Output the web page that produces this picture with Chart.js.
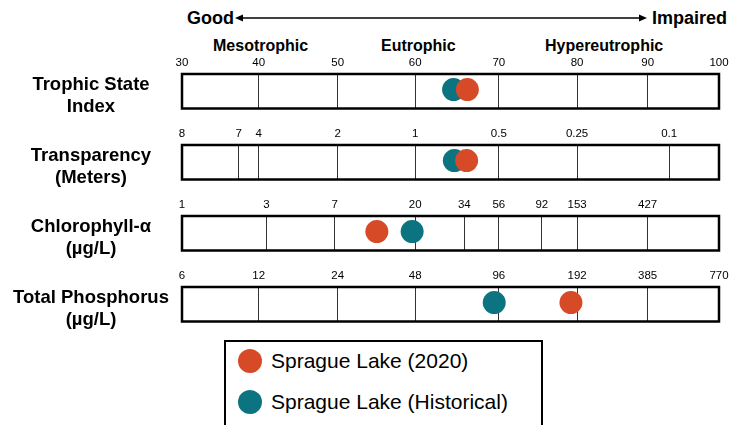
<!DOCTYPE html>
<html>
<head>
<meta charset="utf-8">
<script src="https://cdn.jsdelivr.net/npm/chart.js@4"></script>
<style>
  html, body { margin: 0; padding: 0; background: #fff; }
  #wrap { position: relative; width: 747px; height: 425px; overflow: hidden; font-family: "Liberation Sans", Arial, sans-serif; color: #000; }
  .t { position: absolute; white-space: nowrap; line-height: 1; }
  .b { font-weight: bold; }
  .row { position: absolute; left: 0; width: 747px; height: 70px; }
  .rowlab { position: absolute; left: 0; width: 182px; text-align: center; font-weight: bold; font-size: 18.5px; line-height: 22px; white-space: nowrap; }
  #legend { position: absolute; left: 224px; top: 340px; width: 319px; height: 120px; border: 2px solid #000; box-sizing: border-box; }
  .lg { position: absolute; left: 12px; font-size: 21px; line-height: 24px; white-space: nowrap; }
  .dot { display: inline-block; width: 24px; height: 24px; border-radius: 50%; vertical-align: top; margin-right: 9px; }
</style>
</head>
<body>
<div id="wrap">
  <div class="t b" style="left:187px; top:9px; font-size:18px;">Good</div>
  <svg style="position:absolute; left:0; top:0;" width="747" height="40">
    <line x1="241" y1="18" x2="641" y2="18" stroke="#000" stroke-width="1.6"/>
    <polygon points="235,18 243,14.5 243,21.5" fill="#000"/>
    <polygon points="647,18 639,14.5 639,21.5" fill="#000"/>
  </svg>
  <div class="t b" style="left:652px; top:9px; font-size:18px;">Impaired</div>
  <div class="t b" style="left:213px; top:38px; font-size:16px;">Mesotrophic</div>
  <div class="t b" style="left:381px; top:38px; font-size:16px;">Eutrophic</div>
  <div class="t b" style="left:545px; top:38px; font-size:16px;">Hypereutrophic</div>
  <div id="rows"></div>
  <div id="legend"></div>
</div>
<script>
const rowNames = [
  ["Trophic State", "Index"],
  ["Transparency", "(Meters)"],
  ["Chlorophyll-α", "(µg/L)"],
  ["Total Phosphorus", "(µg/L)"]
];

// where each labelled line sits on the 30-100 index scale, as drawn
const tsiTickPos = [30, 40, 50.3, 60.4, 71.3, 81.5, 90.7, 100];
const tsiTickLabels = ["30", "40", "50", "60", "70", "80", "90", "100"];
const sdTickPos = [30, 37.4, 40, 50.3, 60.4, 71.3, 81.5, 93.5];
const sdTickLabels = ["8", "7", "4", "2", "1", "0.5", "0.25", "0.1"];
const chlTickPos = [30, 41, 49.9, 60.4, 66.8, 71.3, 76.9, 81.5, 90.7];
const chlTickLabels = ["1", "3", "7", "20", "34", "56", "92", "153", "427"];
const tpTickPos = [30, 40, 50.3, 60.4, 71.3, 81.5, 90.7, 100];
const tpTickLabels = ["6", "12", "24", "48", "96", "192", "385", "770"];

const seriesNames = ["Sprague Lake (2020)", "Sprague Lake (Historical)"];
const lake2020 = [67.2, 67.1, 55.4, 80.7];
const lakeHistorical = [65.4, 65.5, 60.0, 70.7];

const colors = ["#D64a28", "#0b7480"];
const boxTops = [74, 145, 216, 287];
const tickSets = [
  [tsiTickPos, tsiTickLabels],
  [sdTickPos, sdTickLabels],
  [chlTickPos, chlTickLabels],
  [tpTickPos, tpTickLabels]
];

Chart.defaults.font.family = '"Liberation Sans", Arial, sans-serif';
Chart.defaults.color = "#000";

const boxPlugin = {
  id: "boxOutline",
  afterDraw(chart) {
    const a = chart.chartArea;
    const ctx = chart.ctx;
    ctx.save();
    ctx.strokeStyle = "#000";
    ctx.lineWidth = 2.5;
    ctx.strokeRect(a.left, a.top, a.right - a.left, a.bottom - a.top);
    ctx.restore();
  }
};

const rowsEl = document.getElementById("rows");
const wrap = document.getElementById("wrap");

rowNames.forEach((name, i) => {
  const top = boxTops[i];
  const lab = document.createElement("div");
  lab.className = "rowlab";
  lab.style.top = (top - 1) + "px";
  lab.innerHTML = name[0] + "<br>" + name[1];
  wrap.appendChild(lab);

  const div = document.createElement("div");
  div.className = "row";
  div.style.top = (top - 24) + "px";
  const canvas = document.createElement("canvas");
  div.appendChild(canvas);
  rowsEl.appendChild(div);

  const [pos, labels] = tickSets[i];

  new Chart(canvas, {
    type: "scatter",
    data: {
      datasets: [
        { label: seriesNames[0], data: [{ x: lake2020[i], y: 0.55 }], backgroundColor: colors[0], borderWidth: 0, pointRadius: 11.5 },
        { label: seriesNames[1], data: [{ x: lakeHistorical[i], y: 0.55 }], backgroundColor: colors[1], borderWidth: 0, pointRadius: 11.5 }
      ]
    },
    options: {
      responsive: true,
      maintainAspectRatio: false,
      animation: false,
      layout: { padding: { left: 182, right: 28, top: 0, bottom: 4 } },
      plugins: { legend: { display: false }, tooltip: { enabled: false } },
      scales: {
        x: {
          type: "linear",
          position: "top",
          min: 30,
          max: 100,
          afterBuildTicks: (axis) => { axis.ticks = pos.map((v) => ({ value: v })); },
          afterFit: (axis) => { axis.height = 24; },
          ticks: {
            autoSkip: false,
            maxRotation: 0,
            padding: 4,
            font: { size: 11.5 },
            callback: (v, idx) => labels[idx]
          },
          grid: { color: "#333", lineWidth: 1, drawTicks: false },
          border: { display: false }
        },
        y: { display: false, min: 0, max: 1 }
      }
    },
    plugins: [boxPlugin]
  });
});

const legend = document.getElementById("legend");
seriesNames.forEach((s, i) => {
  const el = document.createElement("div");
  el.className = "lg";
  el.style.top = (7 + i * 41) + "px";
  el.innerHTML = '<span class="dot" style="background:' + colors[i] + '"></span>' + s;
  legend.appendChild(el);
});
</script>
</body>
</html>
